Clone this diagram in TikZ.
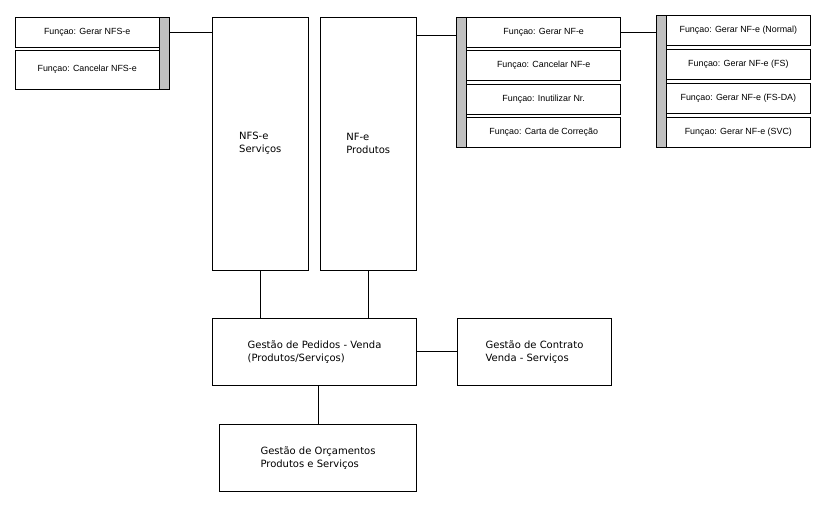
\documentclass[tikz,border=0pt]{standalone}
\usepackage{fontspec}
\setmainfont{DejaVu Sans}
\newfontfamily\smallfnt{Liberation Sans}
\definecolor{barg}{RGB}{192,192,192}
\begin{document}
\begin{tikzpicture}[x=1pt,y=-1pt,
  fbox/.style={draw=black, line width=0.9pt, inner sep=0pt, outer sep=0pt, rectangle, fill=white,
    font=\smallfnt\fontsize{8.9}{10}\selectfont},
  gbar/.style={draw=black, line width=0.9pt, fill=barg, inner sep=0pt, outer sep=0pt, minimum width=10pt},
  bigbox/.style={draw=black, line width=0.9pt, inner sep=0pt, outer sep=0pt, rectangle, align=left,
    font=\fontsize{10}{13}\selectfont},
  conn/.style={draw=black, line width=0.9pt}]
\useasboundingbox (0,0) rectangle (826,507);

% left group
\node[gbar, minimum height=72pt] (Lbar) at (164.3,53.3) {};
\node[fbox, minimum width=144.3pt, minimum height=30pt] (nfsA) at (87.2,32.3) {Funçao: Gerar NFS-e};
\node[fbox, minimum width=144.3pt, minimum height=39.3pt] (nfsB) at (87.2,69.7) {Funçao: Cancelar NFS-e};

% big vertical boxes
\node[bigbox, minimum width=96pt, minimum height=252.7pt] (NFS) at (260.3,143.7) {NFS-e\\Serviços};
\node[bigbox, minimum width=96.3pt, minimum height=252.7pt] (NF) at (368.2,143.7) {NF-e\\Produtos};

% middle group
\node[gbar, minimum height=130.4pt] (Mbar) at (461.7,82.5) {};
\node[fbox, minimum width=154pt, minimum height=30pt] (m1) at (543.7,32.3) {Funçao: Gerar NF-e};
\node[fbox, minimum width=154pt, minimum height=30pt] (m2) at (543.7,65.3) {Funçao: Cancelar NF-e};
\node[fbox, minimum width=154pt, minimum height=30pt] (m3) at (543.7,99) {Funçao: Inutilizar Nr.};
\node[fbox, minimum width=154pt, minimum height=30.4pt] (m4) at (543.7,132.5) {Funçao: Carta de Correção};

% right group
\node[gbar, minimum height=132.7pt] (Rbar) at (661,81.35) {};
\node[fbox, minimum width=144.7pt, minimum height=30pt] (r1) at (738.35,30) {Funçao: Gerar NF-e (Normal)};
\node[fbox, minimum width=144.7pt, minimum height=30pt] (r2) at (738.35,64.3) {Funçao: Gerar NF-e (FS)};
\node[fbox, minimum width=144.7pt, minimum height=30pt] (r3) at (738.35,98) {Funçao: Gerar NF-e (FS-DA)};
\node[fbox, minimum width=144.7pt, minimum height=30.4pt] (r4) at (738.35,132.5) {Funçao: Gerar NF-e (SVC)};

% bottom boxes
\node[bigbox, minimum width=204.4pt, minimum height=66.7pt] (Ped) at (314.5,351.7) {Gestão de Pedidos - Venda\\(Produtos/Serviços)};
\node[bigbox, minimum width=154.4pt, minimum height=66.7pt] (Con) at (534.5,351.7) {Gestão de Contrato\\Venda - Serviços};
\node[bigbox, minimum width=197.4pt, minimum height=67.4pt] (Orc) at (318,458) {Gestão de Orçamentos\\Produtos e Serviços};

% connectors
\draw[conn] (Lbar.east |- nfsA.center) -- (nfsA.center -| NFS.west);
\coordinate (nfc) at ([yshift=-18.4pt]NF.north east);
\draw[conn] (nfc) -- (nfc -| Mbar.west);
\draw[conn] (m1.east) -- (m1.east -| Rbar.west);
\draw[conn] (NFS.south) -- (NFS.south |- Ped.north);
\draw[conn] (NF.south) -- (NF.south |- Ped.north);
\draw[conn] (Ped.east) -- (Con.west);
\draw[conn] (Orc.north) -- (Orc.north |- Ped.south);
\end{tikzpicture}
\end{document}
